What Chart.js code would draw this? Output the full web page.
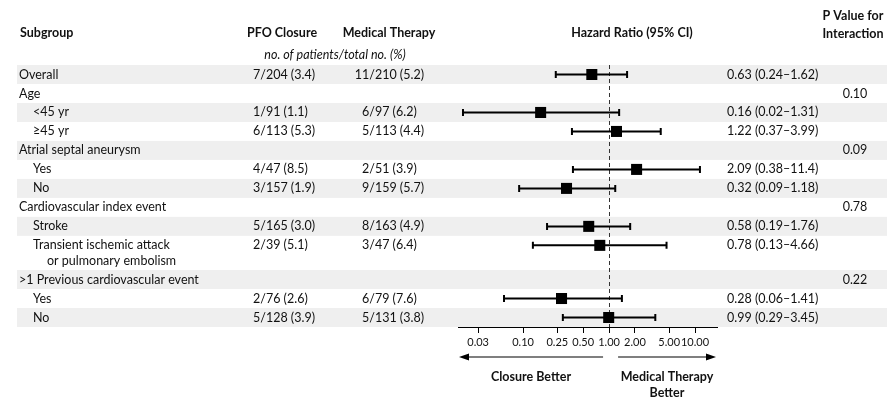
<!DOCTYPE html>
<html>
<head>
<meta charset="utf-8">
<script src="https://cdn.jsdelivr.net/npm/chart.js@4.4.0/dist/chart.umd.min.js"></script>
<style>
  html, body { margin: 0; padding: 0; background: #fff; }
  #wrap { width: 887px; height: 413px; position: relative; }
</style>
</head>
<body>
<div id="wrap"><canvas id="forest"></canvas></div>
<script>
// データ（行ごと）
const subgroups = ["Overall", "Age", "<45 yr", "≥45 yr", "Atrial septal aneurysm", "Yes", "No",
  "Cardiovascular index event", "Stroke", "Transient ischemic attack|or pulmonary embolism",
  ">1 Previous cardiovascular event", "Yes", "No"];
const indentLevel = [0, 0, 1, 1, 0, 1, 1, 0, 1, 1, 0, 1, 1];
const rowSpan = [1, 1, 1, 1, 1, 1, 1, 1, 1, 1.8, 1, 1, 1];
const pfoClosure = ["7/204 (3.4)", "", "1/91 (1.1)", "6/113 (5.3)", "", "4/47 (8.5)", "3/157 (1.9)",
  "", "5/165 (3.0)", "2/39 (5.1)", "", "2/76 (2.6)", "5/128 (3.9)"];
const medicalTherapy = ["11/210 (5.2)", "", "6/97 (6.2)", "5/113 (4.4)", "", "2/51 (3.9)", "9/159 (5.7)",
  "", "8/163 (4.9)", "3/47 (6.4)", "", "6/79 (7.6)", "5/131 (3.8)"];
const hazardRatio = [0.63, null, 0.16, 1.22, null, 2.09, 0.32, null, 0.58, 0.78, null, 0.28, 0.99];
const ciLow = [0.24, null, 0.02, 0.37, null, 0.38, 0.09, null, 0.19, 0.13, null, 0.06, 0.29];
const ciHigh = [1.62, null, 1.31, 3.99, null, 11.4, 1.18, null, 1.76, 4.66, null, 1.41, 3.45];
const pInteraction = ["", "0.10", "", "", "0.09", "", "", "0.78", "", "", "0.22", "", ""];
const xTicks = [0.03, 0.10, 0.25, 0.50, 1.00, 2.00, 5.00, 10.00];

// 行の上端（y単位）
const rowTop = [];
let acc = 0;
for (const s of rowSpan) { rowTop.push(acc); acc += s; }
const totalRows = acc;

const FONT = "Lato";
const TEXT = "#111";

const points = [];
hazardRatio.forEach((v, i) => { if (v !== null) points.push({ x: v, y: rowTop[i] + 0.5 }); });

function fmt(v) { return v >= 10 ? v.toFixed(1) : v.toFixed(2); }

const forestPlugin = {
  id: "forest",
  beforeDraw(chart) {
    const ctx = chart.ctx;
    const ys = chart.scales.y;
    ctx.save();
    // 行の背景帯
    for (let i = 0; i < subgroups.length; i++) {
      if (i % 2 !== 0) continue;
      const y0 = ys.getPixelForValue(rowTop[i]);
      const y1 = ys.getPixelForValue(rowTop[i] + rowSpan[i]);
      ctx.fillStyle = "#efefef";
      ctx.fillRect(17, y0, chart.width - 17, y1 - y0);
    }
    ctx.restore();
  },
  beforeDatasetsDraw(chart) {
    const ctx = chart.ctx;
    const xs = chart.scales.x, ys = chart.scales.y;
    ctx.save();
    // HR=1 の破線
    const x1 = Math.round(xs.getPixelForValue(1)) + 0.5;
    ctx.strokeStyle = "#333";
    ctx.lineWidth = 1;
    ctx.setLineDash([4, 3]);
    ctx.beginPath();
    ctx.moveTo(x1, ys.getPixelForValue(0));
    ctx.lineTo(x1, chart.chartArea.bottom);
    ctx.stroke();
    ctx.setLineDash([]);
    // 信頼区間
    ctx.strokeStyle = "#000";
    ctx.lineWidth = 2;
    for (let i = 0; i < hazardRatio.length; i++) {
      if (hazardRatio[i] === null) continue;
      const y = ys.getPixelForValue(rowTop[i] + 0.5);
      const a = xs.getPixelForValue(ciLow[i]);
      const b = xs.getPixelForValue(ciHigh[i]);
      ctx.beginPath();
      ctx.moveTo(a, y); ctx.lineTo(b, y);
      ctx.moveTo(a, y - 3.5); ctx.lineTo(a, y + 3.5);
      ctx.moveTo(b, y - 3.5); ctx.lineTo(b, y + 3.5);
      ctx.stroke();
    }
    ctx.restore();
  },
  afterDraw(chart) {
    const ctx = chart.ctx;
    const ys = chart.scales.y;
    ctx.save();
    ctx.fillStyle = TEXT;
    ctx.textBaseline = "middle";

    // ヘッダー
    ctx.font = `bold 12.5px ${FONT}`;
    ctx.textAlign = "left";
    ctx.fillText("Subgroup", 20, 33);
    ctx.textAlign = "center";
    ctx.fillText("PFO Closure", 282, 33);
    ctx.fillText("Medical Therapy", 389, 33);
    ctx.fillText("Hazard Ratio (95% CI)", 632, 33);
    ctx.fillText("P Value for", 853, 16);
    ctx.fillText("Interaction", 853, 34);
    ctx.font = `italic 12.5px ${FONT}`;
    ctx.fillText("no. of patients/total no. (%)", 335, 55);

    // 行テキスト
    ctx.font = `12.5px ${FONT}`;
    const digitW = ctx.measureText("0").width;
    for (let i = 0; i < subgroups.length; i++) {
      const y = ys.getPixelForValue(rowTop[i] + 0.5);
      const lines = subgroups[i].split("|");
      ctx.textAlign = "left";
      const lx = indentLevel[i] ? 33 : 19;
      ctx.fillText(lines[0], lx, y);
      if (lines[1]) ctx.fillText(lines[1], lx + 14, y + 16);
      if (pfoClosure[i]) {
        const num = pfoClosure[i].split("/")[0];
        ctx.fillText(pfoClosure[i], 253 - (ctx.measureText(num).width - digitW), y);
      }
      if (medicalTherapy[i]) {
        const num = medicalTherapy[i].split("/")[0];
        ctx.fillText(medicalTherapy[i], 362 - (ctx.measureText(num).width - digitW), y);
      }
      if (hazardRatio[i] !== null) {
        ctx.fillText(`${fmt(hazardRatio[i])} (${fmt(ciLow[i])}–${fmt(ciHigh[i])})`, 727, y);
      }
      if (pInteraction[i]) {
        ctx.textAlign = "center";
        ctx.fillText(pInteraction[i], 855, y);
      }
    }

    // 矢印と説明
    const xs = chart.scales.x;
    const xm = xs.getPixelForValue(1);
    const ay = 357;
    ctx.strokeStyle = "#000";
    ctx.lineWidth = 1.2;
    ctx.beginPath();
    ctx.moveTo(xm - 6, ay); ctx.lineTo(467, ay);
    ctx.moveTo(xm + 9, ay); ctx.lineTo(708, ay);
    ctx.stroke();
    ctx.beginPath();
    ctx.moveTo(459, ay); ctx.lineTo(469, ay - 3.5); ctx.lineTo(469, ay + 3.5); ctx.closePath();
    ctx.moveTo(716, ay); ctx.lineTo(706, ay - 3.5); ctx.lineTo(706, ay + 3.5); ctx.closePath();
    ctx.fillStyle = "#000";
    ctx.fill();
    ctx.fillStyle = TEXT;
    ctx.font = `bold 12.5px ${FONT}`;
    ctx.textAlign = "center";
    ctx.fillText("Closure Better", 531, 377);
    ctx.fillText("Medical Therapy", 667, 377);
    ctx.fillText("Better", 667, 393);
    ctx.restore();
  }
};

new Chart(document.getElementById("forest"), {
  type: "scatter",
  data: {
    datasets: [{
      data: points,
      pointStyle: "rect",
      pointRadius: 7.8,
      pointHoverRadius: 7.8,
      backgroundColor: "#000",
      borderColor: "#000",
      borderWidth: 0
    }]
  },
  options: {
    responsive: true,
    maintainAspectRatio: false,
    animation: false,
    events: [],
    layout: { padding: { left: 458, right: 170, top: 65, bottom: 0 } },
    plugins: { legend: { display: false }, tooltip: { enabled: false } },
    scales: {
      x: {
        type: "logarithmic",
        min: 0.0175,
        max: 18,
        afterBuildTicks: (s) => { s.ticks = xTicks.map(v => ({ value: v })); },
        afterFit: (s) => { s.height = 413 - 327; },
        border: { display: true, color: "#000", width: 1 },
        grid: { display: true, drawOnChartArea: false, drawTicks: true, tickLength: 6, color: "#000" },
        ticks: {
          autoSkip: false,
          maxRotation: 0,
          padding: 3,
          color: "#111",
          font: { family: FONT, size: 11 },
          callback: (v) => Number(v).toFixed(2)
        }
      },
      y: {
        type: "linear",
        reverse: true,
        min: 0,
        max: totalRows,
        display: false
      }
    }
  },
  plugins: [forestPlugin]
});
</script>
</body>
</html>
